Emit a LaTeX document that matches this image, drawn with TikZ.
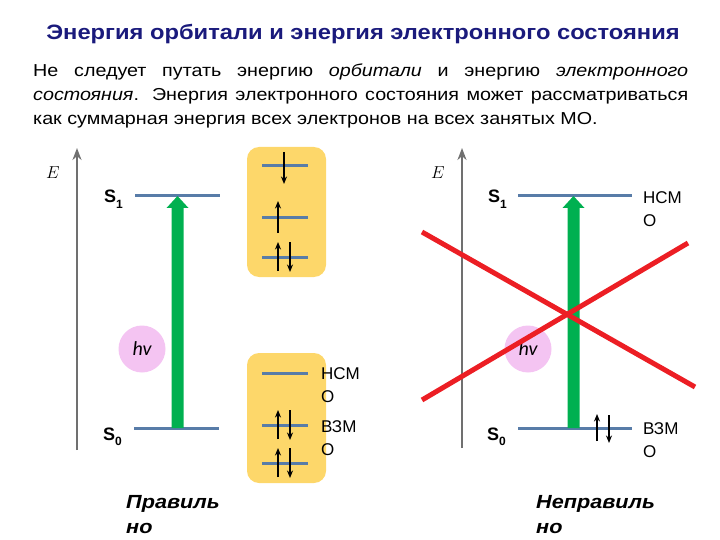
\documentclass[tikz,border=0pt]{standalone}
\usepackage{fontspec}
\setmainfont[FakeStretch=1.14]{Liberation Sans}
\newfontfamily\plainsans{Liberation Sans}
\newfontfamily\carl{Carlito}
\usetikzlibrary{arrows.meta}
\definecolor{titleblue}{RGB}{26,26,124}
\definecolor{lvlblue}{RGB}{88,124,168}
\definecolor{grn}{RGB}{0,176,80}
\definecolor{ylw}{RGB}{253,215,106}
\definecolor{pnk}{RGB}{244,196,242}
\definecolor{redx}{RGB}{236,30,36}
\definecolor{axgray}{RGB}{112,112,112}
\tikzset{
  level/.style={draw=lvlblue,line width=3pt},
  mobox/.style={fill=ylw,rounded corners=12pt},
  spin/.style={line width=1.4pt,-{Stealth[length=7.5pt,width=6pt]}},
  eaxis/.style={draw=axgray,line width=2pt,-{Stealth[length=12pt,width=9pt]}},
  greenarrow/.style={fill=grn},
  photon/.style={circle,fill=pnk,minimum size=47pt,inner sep=0pt,font=\fontsize{20}{20}\selectfont\carl\itshape},
  statelbl/.style={inner sep=0pt,anchor=base west,font=\fontsize{18}{18}\selectfont\plainsans\bfseries},
  molbl/.style={inner sep=0pt,anchor=base west,align=left,font=\fontsize{17}{23}\selectfont\plainsans},
  elbl/.style={inner sep=0pt,anchor=base,font=\fontsize{18}{18}\selectfont},
  verdict/.style={inner sep=0pt,anchor=base west,align=left,font=\fontsize{19}{25}\selectfont\bfseries\itshape},
  crossline/.style={draw=redx,line width=5pt},
  partext/.style={inner sep=0pt,anchor=base west,font=\fontsize{17.3}{24}\selectfont}
}
\newcommand{\Sstate}[1]{S\raisebox{-0.55ex}{\fontsize{12}{12}\selectfont\plainsans\bfseries #1}}
\begin{document}
\begin{tikzpicture}[x=1pt,y=-1pt]
\useasboundingbox (0,0) rectangle (720,540);
% title
\node[inner sep=0pt,anchor=base,text=titleblue,font=\fontsize{20.8}{20.8}\selectfont\bfseries] (title) at (363,40) {Энергия орбитали и энергия электронного состояния};
% paragraph
\node[partext] (p1) at (33,77) {\makebox[655pt][s]{Не следует путать энергию \textit{орбитали} и энергию \textit{электронного}}};
\node[partext] (p2) at (33,101) {\makebox[655pt][s]{\textit{состояния}. Энергия электронного состояния может рассматриваться}};
\node[partext] (p3) at (33,125) {как суммарная энергия всех электронов на всех занятых МО.};

% ===== left diagram =====
\coordinate (eLbot) at (77,450);
\coordinate (eLtop) at (77,148);
\draw[eaxis] (eLbot) -- (eLtop);
\node[elbl] (eL) at (53,179) {$E$};
\coordinate (s1La) at (135,196); \coordinate (s1Lb) at (220,196);
\coordinate (s0La) at (134,428); \coordinate (s0Lb) at (219,428);
\draw[level] (s1La) -- (s1Lb);
\draw[level] (s0La) -- (s0Lb);
\node[statelbl] (S1L) at (104,203) {\Sstate{1}};
\node[statelbl] (S0L) at (103,440) {\Sstate{0}};
\fill[greenarrow] (171.5,428) -- (171.5,208) -- (166.5,208) -- (177.5,196) -- (188.5,208) -- (183.5,208) -- (183.5,428) -- cycle;
\node[photon] (hvL) at (142,349) {hv};
% upper box
\fill[mobox] (247,147) rectangle (326,277);
\draw[level] (262,166) -- (308,166);
\draw[level] (262,218) -- (308,218);
\draw[level] (262,257) -- (308,257);
\draw[spin] (284,152) -- (284,184);
\draw[spin] (278,233) -- (278,201);
\draw[spin] (278,271) -- (278,242);
\draw[spin] (290,242) -- (290,272);
% lower box
\fill[mobox] (247,353) rectangle (326,483);
\draw[level] (262,373) -- (308,373);
\draw[level] (262,425) -- (308,425);
\draw[level] (262,463) -- (308,463);
\draw[spin] (278,439) -- (278,410);
\draw[spin] (290,410) -- (290,440);
\draw[spin] (278,477) -- (278,448);
\draw[spin] (290,448) -- (290,478);
\node[molbl] (lumoL) at (321,402) {НСМ\\О};
\node[molbl] (homoL) at (321,455) {ВЗМ\\О};
\node[verdict] (ok) at (126,533) {Правиль\\но};

% ===== right diagram =====
\coordinate (eRbot) at (462,448);
\coordinate (eRtop) at (462,148);
\draw[eaxis] (eRbot) -- (eRtop);
\node[elbl] (eR) at (438,179) {$E$};
\coordinate (s1Ra) at (518,196); \coordinate (s1Rb) at (632,196);
\coordinate (s0Ra) at (518,428); \coordinate (s0Rb) at (632,428);
\draw[level] (s1Ra) -- (s1Rb);
\draw[level] (s0Ra) -- (s0Rb);
\node[statelbl] (S1R) at (488,203) {\Sstate{1}};
\node[statelbl] (S0R) at (487,440) {\Sstate{0}};
\fill[greenarrow] (567.5,428) -- (567.5,208) -- (562.5,208) -- (573.5,196) -- (584.5,208) -- (579.5,208) -- (579.5,428) -- cycle;
\node[photon] (hvR) at (528,349) {hv};
\draw[spin] (597,441) -- (597,414);
\draw[spin] (609,415) -- (609,443);
\node[molbl] (lumoR) at (643,226) {НСМ\\О};
\node[molbl] (homoR) at (643,457) {ВЗМ\\О};
\node[verdict] (bad) at (536,533) {Неправиль\\но};
% red cross
\coordinate (x1a) at (422,232); \coordinate (x1b) at (695,387);
\coordinate (x2a) at (422,400); \coordinate (x2b) at (688,243);
\draw[crossline] (x1a) -- (x1b);
\draw[crossline] (x2a) -- (x2b);
\end{tikzpicture}
\end{document}
